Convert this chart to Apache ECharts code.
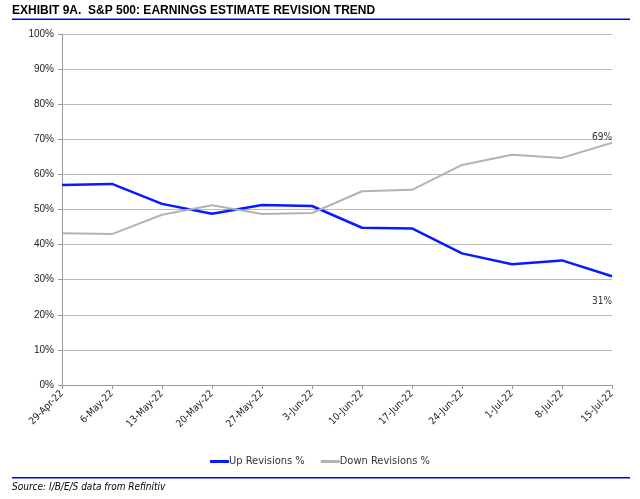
<!DOCTYPE html>
<html><head><meta charset="utf-8">
<script src="https://cdn.jsdelivr.net/npm/echarts@6/dist/echarts.min.js"></script>
<style>html,body{margin:0;padding:0;background:#fff}#c{width:640px;height:499px}</style>
</head><body><div id="c"></div>
<script>
const categories = ['29-Apr-22','6-May-22','13-May-22','20-May-22','27-May-22','3-Jun-22','10-Jun-22','17-Jun-22','24-Jun-22','1-Jul-22','8-Jul-22','15-Jul-22'];
const upRevisions = [57.0, 57.3, 51.6, 48.8, 51.3, 51.0, 44.8, 44.6, 37.5, 34.4, 35.5, 31.0];
const downRevisions = [43.2, 43.0, 48.5, 51.2, 48.7, 49.0, 55.2, 55.6, 62.7, 65.6, 64.7, 69.0];
const yTicks = [0,10,20,30,40,50,60,70,80,90,100];

const NARROW = '"Liberation Sans Narrow", "DejaVu Sans Condensed", Arial, sans-serif';
const chart = echarts.init(document.getElementById('c'));
chart.setOption({
  animation: false,
  textStyle: {fontFamily: 'Liberation Sans, Arial, sans-serif'},
  grid: {left: 62, right: 28, top: 34, bottom: 114},
  graphic: [
    {type:'text', left: 12, top: 5, style:{text:'EXHIBIT 9A.  S&P 500: EARNINGS ESTIMATE REVISION TREND', font:'bold 12px Liberation Sans, Arial', fill:'#000'}},
    {type:'rect', shape:{x:12, y:18.5, width:618, height:1.5}, style:{fill:'#0000ee'}},
    {type:'rect', shape:{x:12, y:477, width:618, height:1.5}, style:{fill:'#0000ee'}},
    {type:'text', left: 12, top: 482, style:{text:'Source: I/B/E/S data from Refinitiv', font:'italic 10px ' + NARROW, fill:'#000'}}
  ],
  legend: {
    bottom: 27, left: 'center', itemWidth: 19, itemHeight: 3, itemGap: 16,
    textStyle: {fontSize: 11, color: '#333', fontFamily: NARROW, padding: [0,0,0,-5]},
    data: [{name:'Up Revisions %', icon:'rect'}, {name:'Down Revisions %', icon:'rect'}]
  },
  xAxis: {
    type: 'category', data: categories, boundaryGap: false,
    axisLine: {lineStyle: {color: '#999'}},
    axisTick: {show: true, length: 4, lineStyle:{color:'#999'}},
    axisLabel: {rotate: 45, fontSize: 10, color: '#222', margin: 7, fontFamily: NARROW}
  },
  yAxis: {
    type: 'value', min: 0, max: 100, interval: 10,
    axisLine: {show: true, lineStyle: {color: '#999'}},
    axisTick: {show: true, length: 4, lineStyle:{color:'#999'}},
    axisLabel: {formatter: v => v + '%', fontSize: 10, color: '#222', margin: 8},
    splitLine: {lineStyle: {color: '#bbb', width: 1}}
  },
  series: [
    {name:'Up Revisions %', type:'line', data: upRevisions, showSymbol:false, symbol:'none',
     lineStyle:{color:'#0a1aff', width:2.5}, itemStyle:{color:'#0a1aff'},
     endLabel:{show:true, offset:[-28, 25], fontSize:10, color:'#333', fontFamily: NARROW,
            formatter: p => Math.round(p.value) + '%'}},
    {name:'Down Revisions %', type:'line', data: downRevisions, showSymbol:false, symbol:'none',
     lineStyle:{color:'#b3b3b3', width:2}, itemStyle:{color:'#b3b3b3'},
     endLabel:{show:true, offset:[-28, -5], fontSize:10, color:'#333', fontFamily: NARROW,
            formatter: p => Math.round(p.value) + '%'}}
  ]
});
</script></body></html>
